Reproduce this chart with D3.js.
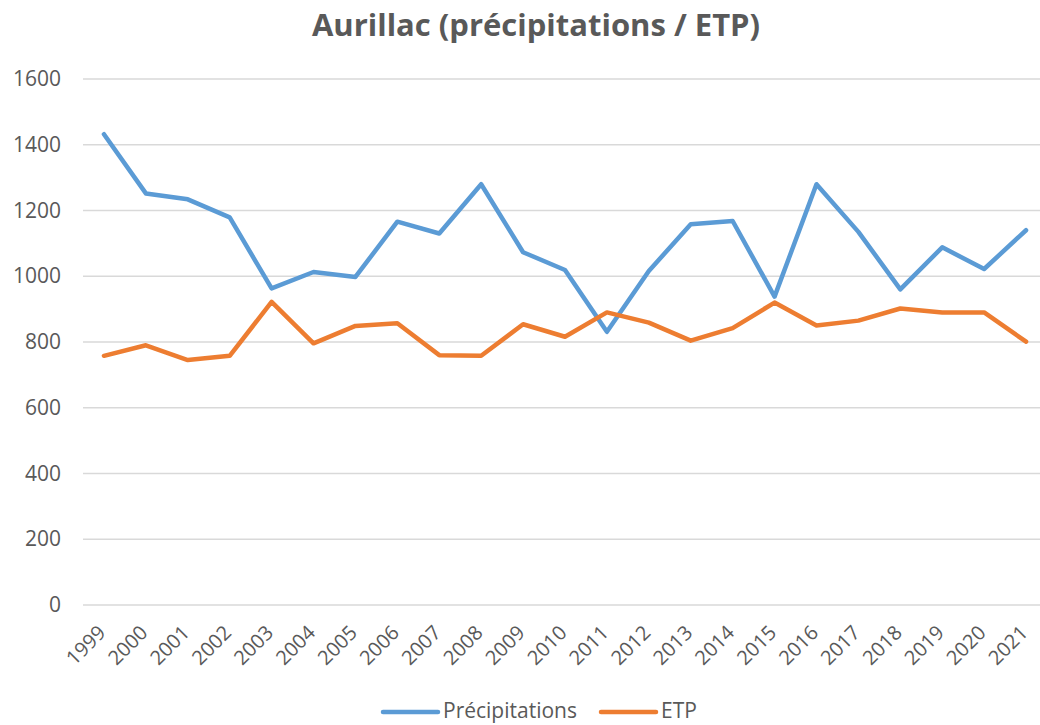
<!DOCTYPE html>
<html lang="fr">
<head>
<meta charset="UTF-8">
<title>Aurillac (précipitations / ETP)</title>
<style>
  body { margin: 0; background: #fff; font-family: "Open Sans", Lato, sans-serif; }
  .grid line { stroke: #d9d9d9; stroke-width: 1.3; }
  .axis text { fill: #595959; font-family: "Open Sans", sans-serif; }
</style>
</head>
<body>
<div id="chart"></div>
<script src="https://d3js.org/d3.v7.min.js"></script>
<script>
// data
const years = ["1999","2000","2001","2002","2003","2004","2005","2006","2007","2008","2009","2010",
               "2011","2012","2013","2014","2015","2016","2017","2018","2019","2020","2021"];
const precipitations = [1432,1252,1234,1179,963,1013,998,1166,1130,1280,1073,1019,
                        831,1016,1158,1168,938,1280,1135,960,1088,1022,1140];
const etp = [758,790,745,758,922,796,849,857,760,758,854,816,
             890,859,804,842,920,850,865,902,890,890,801];
const yTicks = [0,200,400,600,800,1000,1200,1400,1600];
const seriesNames = ["Précipitations","ETP"];
const colors = ["#5b9bd5","#ed7d31"];

const W = 1040, H = 725;
const margin = {top: 79, right: -7, bottom: 120, left: 83};
const innerW = W - margin.left - margin.right;
const innerH = H - margin.top - margin.bottom;

const svg = d3.select("#chart").append("svg")
  .attr("width", W).attr("height", H);

svg.append("text")
  .attr("x", 536).attr("y", 36)
  .attr("text-anchor", "middle")
  .attr("fill", "#595959")
  .style("font-size", "31px").style("font-weight", "bold")
  .text("Aurillac (précipitations / ETP)");

const g = svg.append("g").attr("transform", `translate(${margin.left},${margin.top})`);

const x = d3.scaleBand().domain(years).range([0, innerW]);
const y = d3.scaleLinear().domain([0, 1600]).range([innerH, 0]);

// gridlines
g.append("g").attr("class", "grid")
  .selectAll("line").data(yTicks).join("line")
  .attr("x1", 0).attr("x2", innerW)
  .attr("y1", d => y(d)).attr("y2", d => y(d));

// y axis
const yAxis = g.append("g").attr("class", "axis")
  .style("font-size", "21px")
  .call(d3.axisLeft(y).tickValues(yTicks).tickFormat(d3.format("d")).tickSize(0).tickPadding(22));
yAxis.select(".domain").remove();

// x axis
const xAxis = g.append("g").attr("class", "axis")
  .attr("transform", `translate(0,${innerH})`)
  .style("font-size", "20px")
  .call(d3.axisBottom(x).tickSize(0).tickPadding(0));
xAxis.select(".domain").remove();
xAxis.selectAll("text")
  .attr("text-anchor", "end")
  .attr("dy", "0")
  .attr("transform", "translate(3,29) rotate(-45)");

// lines
const line = d3.line()
  .x((d, i) => x(years[i]) + x.bandwidth() / 2)
  .y(d => y(d));

[precipitations, etp].forEach((s, i) => {
  g.append("path")
    .datum(s)
    .attr("fill", "none")
    .attr("stroke", colors[i])
    .attr("stroke-width", 4.5)
    .attr("stroke-linejoin", "round")
    .attr("stroke-linecap", "round")
    .attr("d", line);
});

// legend
const legendX = [383, 601];
const legend = svg.append("g");
seriesNames.forEach((name, i) => {
  legend.append("line")
    .attr("x1", legendX[i]).attr("x2", legendX[i] + 55)
    .attr("y1", 712).attr("y2", 712)
    .attr("stroke", colors[i]).attr("stroke-width", 4.5)
    .attr("stroke-linecap", "round");
  legend.append("text")
    .attr("x", legendX[i] + 60).attr("y", 718)
    .attr("fill", "#595959")
    .style("font-size", "21px")
    .text(name);
});
</script>
</body>
</html>
